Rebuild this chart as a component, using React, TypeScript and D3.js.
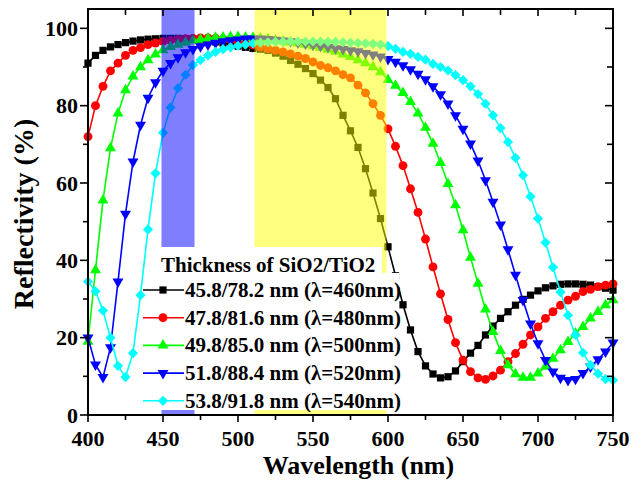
import React from 'react'
import * as d3 from 'd3'

// wavelength grid of the simulation (nm)
const wavelengths = d3.range(400, 751, 5)

// reflectivity (%) per design
const refl460 = [
  91, 93, 94.3, 95.2, 95.8, 96.3, 96.7, 97, 97.2, 97.3,
  97.4, 97.4, 97.4, 97.3, 97.2, 97, 96.8, 96.5, 96.2, 95.8,
  95.4, 95.1, 94.8, 94.6, 94.3, 93.6, 92.8, 91.7, 90.7, 89.6,
  88.3, 86.6, 84.7, 81.8, 77.5, 73.5, 69.2, 63.7, 57.4, 50.8,
  43.5, 36, 28.5, 22, 16.4, 12.7, 10.6, 9.6, 9.9, 11.4,
  13.8, 16, 18, 20.7, 23, 25, 26.7, 28.4, 29.9, 31,
  32.1, 32.9, 33.4, 33.8, 33.9, 33.9, 33.8, 33.6, 33.2, 32.8,
  32.3,
]
const refl480 = [
  72, 80, 85, 89, 91, 93, 94.3, 95, 95.8, 96.2,
  96.6, 96.9, 97.1, 97.3, 97.4, 97.5, 97.5, 97.4, 97.2, 97,
  96.6, 96.2, 95.7, 95.2, 94.7, 94.3, 93.9, 93.4, 92.8, 92.2,
  91.3, 90.4, 89.8, 89, 88, 87.2, 85.3, 83.3, 80.5, 77.5,
  74, 69.5, 64.5, 58.5, 52.4, 45.5, 38.3, 31.3, 24.7, 18.7,
  14.2, 11.2, 9.6, 9.2, 10.1, 11.6, 13.8, 15.9, 18.3, 20.7,
  22.8, 25, 26.7, 28.4, 29.7, 30.7, 31.9, 32.5, 33.2, 33.6,
  33.9,
]
const refl500 = [
  19, 37.5, 55.5, 69, 78, 84, 87.6, 90, 91.8, 93.3,
  94.4, 95.2, 95.8, 96.3, 96.8, 97.1, 97.4, 97.6, 97.7, 97.8,
  97.8, 97.7, 97.6, 97.4, 97.2, 96.9, 96.7, 96.4, 96.1, 95.8,
  95.4, 95, 94.5, 94, 93.3, 92.6, 91.8, 91, 90, 88.7,
  86.7, 85.2, 83.3, 81, 78, 74.3, 70.2, 65.2, 59.8, 54.3,
  47.8, 40.7, 34, 27.3, 21.5, 16.6, 12.9, 10.6, 9.7, 9.7,
  10.8, 12.5, 14.6, 16.8, 18.9, 21.1, 22.8, 25, 26.7, 28.4,
  29.7,
]
const refl520 = [
  20, 13, 9.8, 17.5, 34.5, 52, 65.5, 75, 82, 86,
  89, 91, 92.5, 93.8, 94.6, 95.3, 95.8, 96.2, 96.6, 96.9,
  97.1, 97.3, 97.3, 97.3, 97.2, 97, 96.8, 96.6, 96.3, 96,
  95.7, 95.4, 95.1, 94.8, 94.6, 94.3, 94, 93.6, 93.2, 92.7,
  92, 91.3, 90.4, 89.4, 88.2, 86.8, 85, 82.9, 80.5, 77.5,
  74, 70.2, 65.8, 60.7, 55.1, 49.2, 42.8, 36.2, 29.7, 23.6,
  18.5, 14.2, 11.2, 9.6, 9, 9.3, 10.8, 12.5, 14.4, 16.4,
  18.7,
]
const refl540 = [
  34.5, 32, 27, 20, 12.7, 9.8, 16, 31, 48, 62.5,
  73, 79.5, 84.5, 88, 90.5, 91.8, 93, 93.9, 94.6, 95.1,
  95.5, 95.8, 96.1, 96.3, 96.4, 96.5, 96.5, 96.6, 96.6, 96.6,
  96.6, 96.6, 96.5, 96.5, 96.4, 96.3, 96.2, 96.1, 96, 95.8,
  95.4, 94.7, 93.9, 93.4, 92.6, 91.9, 90.8, 90, 89.1, 87.9,
  86.6, 85, 83, 80.5, 77.5, 74.2, 70.6, 66.5, 62, 56.5,
  50.8, 44.6, 38.2, 31.8, 25.8, 20.7, 16.1, 12.9, 10.7, 9.3,
  9,
]

const seriesLabels = [
  '45.8/78.2 nm (λ=460nm)',
  '47.8/81.6 nm (λ=480nm)',
  '49.8/85.0 nm (λ=500nm)',
  '51.8/88.4 nm (λ=520nm)',
  '53.8/91.8 nm (λ=540nm)',
]
const seriesValues = [refl460, refl480, refl500, refl520, refl540]
const seriesColors = ['#000000', '#ff0000', '#00ff00', '#0000ff', '#00ffff']

const xTicks = [400, 450, 500, 550, 600, 650, 700, 750]
const yTicks = [0, 20, 40, 60, 80, 100]

// highlighted wavelength bands (nm)
const blueBand = [449, 471]
const yellowBand = [511, 599]

const width = 643
const height = 481
const margin = { left: 88, top: 9, right: 30, bottom: 66 }
const plotRight = width - margin.right
const plotBottom = height - margin.bottom

const xScale = d3.scaleLinear().domain([400, 750]).range([margin.left, plotRight])
const yScale = d3.scaleLinear().domain([0, 105]).range([plotBottom, margin.top])

const font = 'Liberation Serif, Times New Roman, serif'

const lineGen = d3
  .line<number>()
  .x((d, i) => xScale(wavelengths[i]))
  .y(d => yScale(d))

const symbols = [
  d3.symbol(d3.symbolSquare, 52)(),
  d3.symbol(d3.symbolCircle, 62)(),
  d3.symbol(d3.symbolTriangle, 52)(),
  d3.symbol(d3.symbolTriangle, 52)(),
  d3.symbol(d3.symbolSquare, 52)(),
]
const symbolRotate = [0, 0, 0, 180, 45]

function Marker({ i, x, y }: { i: number; x: number; y: number }) {
  return (
    <path
      d={symbols[i] as string}
      transform={`translate(${x},${y}) rotate(${symbolRotate[i]})`}
      fill={seriesColors[i]}
    />
  )
}

function Series({ i }: { i: number }) {
  const vals = seriesValues[i]
  return (
    <g>
      <path d={lineGen(vals) as string} fill="none" stroke={seriesColors[i]} strokeWidth={1.6} />
      {vals.map((v, j) => (
        <Marker key={j} i={i} x={xScale(wavelengths[j])} y={yScale(v)} />
      ))}
    </g>
  )
}

function Bands() {
  return (
    <g opacity={0.5}>
      <rect
        x={xScale(blueBand[0])}
        width={xScale(blueBand[1]) - xScale(blueBand[0])}
        y={margin.top}
        height={plotBottom - margin.top}
        fill="#0000ff"
      />
      <rect
        x={xScale(yellowBand[0])}
        width={xScale(yellowBand[1]) - xScale(yellowBand[0])}
        y={margin.top}
        height={plotBottom - margin.top}
        fill="#ffff00"
      />
    </g>
  )
}

function Legend() {
  const x0 = 150
  const top = 247
  const rowY = (i: number) => 290 + i * 27.7
  return (
    <g>
      <rect x={x0} y={top} width={232} height={28} fill="#fff" />
      <rect x={x0} y={top + 26} width={249} height={137} fill="#fff" />
      <text x={161} y={272} fontSize={21} fontWeight="bold" fontFamily={font}>
        Thickness of SiO2/TiO2
      </text>
      {seriesLabels.map((label, i) => (
        <g key={label}>
          <line x1={143} x2={184} y1={rowY(i)} y2={rowY(i)} stroke={seriesColors[i]} strokeWidth={1.6} />
          <Marker i={i} x={163} y={rowY(i)} />
          <text x={185} y={rowY(i) + 7} fontSize={21} fontWeight="bold" fontFamily={font}>
            {label}
          </text>
        </g>
      ))}
    </g>
  )
}

function Axes() {
  const xMinor = d3.range(400, 751, 25)
  const yMinor = d3.range(0, 101, 10)
  return (
    <g>
      <rect
        x={margin.left}
        y={margin.top}
        width={plotRight - margin.left}
        height={plotBottom - margin.top}
        fill="none"
        stroke="#000"
        strokeWidth={2}
      />
      {xMinor.map(t => {
        const major = t % 50 === 0
        return (
          <g key={t}>
            <line x1={xScale(t)} x2={xScale(t)} y1={plotBottom} y2={plotBottom + (major ? 7 : 5)} stroke="#000" strokeWidth={1.6} />
            <line x1={xScale(t)} x2={xScale(t)} y1={margin.top} y2={margin.top + (major ? 7 : 6)} stroke="#000" strokeWidth={1.6} />
          </g>
        )
      })}
      {yMinor.map(t => {
        const major = t % 20 === 0
        return (
          <g key={t}>
            <line x1={margin.left} x2={margin.left - (major ? 8 : 5)} y1={yScale(t)} y2={yScale(t)} stroke="#000" strokeWidth={1.6} />
            <line x1={plotRight} x2={plotRight - (major ? 8 : 6)} y1={yScale(t)} y2={yScale(t)} stroke="#000" strokeWidth={1.6} />
          </g>
        )
      })}
      {xTicks.map(t => (
        <text key={t} x={xScale(t)} y={446} textAnchor="middle" fontSize={22} fontWeight="bold" fontFamily={font}>
          {t}
        </text>
      ))}
      {yTicks.map(t => (
        <text key={t} x={margin.left - 10} y={yScale(t) + 7.5} textAnchor="end" fontSize={22} fontWeight="bold" fontFamily={font}>
          {t}
        </text>
      ))}
      <text x={(margin.left + plotRight) / 2 + 8} y={474} textAnchor="middle" fontSize={26} fontWeight="bold" fontFamily={font}>
        Wavelength (nm)
      </text>
      <text
        transform={`translate(33,${(margin.top + plotBottom) / 2 + 2}) rotate(-90)`}
        textAnchor="middle"
        fontSize={28}
        fontWeight="bold"
        fontFamily={font}
      >
        Reflectivity (%)
      </text>
    </g>
  )
}

export default function App() {
  return (
    <svg
      width={width}
      height={height}
      style={{ position: 'absolute', left: 0, top: 0, background: '#fff' }}
    >
      {seriesValues.map((_, i) => (
        <Series key={i} i={i} />
      ))}
      <Bands />
      <Legend />
      <Axes />
    </svg>
  )
}
